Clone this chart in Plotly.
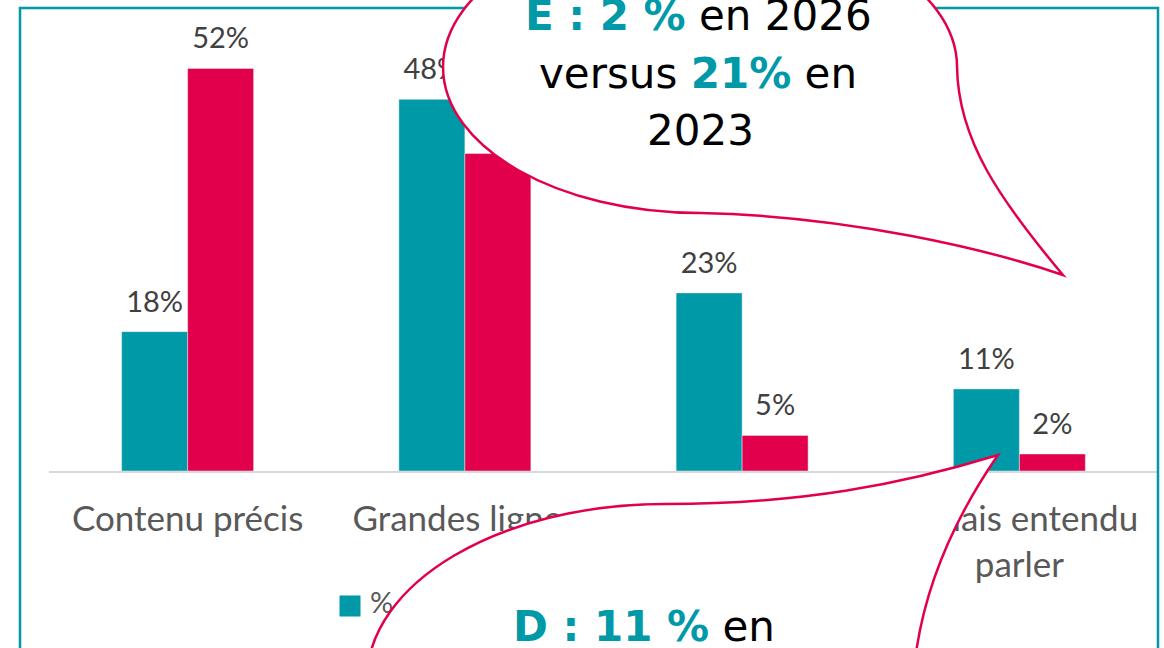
import plotly.graph_objects as go

# chart data
categories = ["Contenu précis", "Grandes lignes", "Entendu parler", "Jamais entendu<br>parler"]
series_names = ["% D", "% E"]
values_d = [18, 48, 23, 10.6]
values_e = [52, 41, 4.6, 2.2]

TEAL = "#0099A8"
CRIMSON = "#E2004C"
GREY = "#595959"
LABEL_GREY = "#404040"

W, H = 1164, 648
ML, MR, MT, MB = 49, 6, 8, 0
PW, PH = W - ML - MR, H - MT - MB
BASELINE = 471  # pixel row of the category axis
split = (H - BASELINE) / PH  # main plot above, legend strip below


def px(x, y):
    """Pixel position on the page -> paper coordinates."""
    return (x - ML) / PW, 1 - (y - MT) / PH


def svg_path(segments):
    parts = []
    for cmd, *pts in segments:
        parts.append(cmd + " ".join("%.4f,%.4f" % px(x, y) for x, y in pts))
    return " ".join(parts) + " Z"


fig = go.Figure()
for name, vals, color, grp in [
    (series_names[0], values_d, TEAL, "d"),
    (series_names[1], values_e, CRIMSON, "e"),
]:
    fig.add_trace(go.Bar(x=categories, y=vals, name=name, marker_color=color,
                         offsetgroup=grp, showlegend=False))
    # value labels, placed a bit higher than plotly's own bar text
    fig.add_trace(go.Scatter(
        x=categories, y=vals, mode="markers+text", offsetgroup=grp,
        texttemplate="%{y:.0f}%", textposition="top center",
        textfont=dict(family="Lato", size=29, color=LABEL_GREY),
        marker=dict(size=19, opacity=0), cliponaxis=False,
        hoverinfo="skip", showlegend=False,
    ))

# hand-drawn legend in a strip under the chart (pixel axes), so the callout can hide it
fig.add_trace(go.Scatter(
    x=[350, 428], y=[606, 606], xaxis="x2", yaxis="y2", mode="markers",
    marker=dict(symbol="square", size=21, color=[TEAL, CRIMSON]),
    hoverinfo="skip", showlegend=False,
))
fig.add_trace(go.Scatter(
    x=[370, 448], y=[606, 606], xaxis="x2", yaxis="y2", mode="text",
    text=[n.replace(" ", "&nbsp;&nbsp;") for n in series_names],
    textposition="middle right",
    textfont=dict(family="Lato", size=29, color=GREY),
    hoverinfo="skip", showlegend=False,
))

# callout outlines (pixel points)
bubble_e = svg_path([
    ("M", (700, 213)),
    ("C", (558, 213), (443, 147.6), (443, 67)),
    ("C", (443, -13.6), (558, -79), (700, -79)),
    ("C", (842, -79), (957, -13.6), (957, 67)),
    ("C", (958, 140), (1000, 200), (1063, 275)),
    ("C", (990, 250), (850, 216), (700, 213)),
])
bubble_d = svg_path([
    ("M", (665, 504)),
    ("C", (800, 504), (900, 485), (998, 455)),
    ("C", (960, 510), (925, 580), (915, 660)),
    ("C", (905, 760), (800, 856), (665, 856)),
    ("C", (500.4, 856), (367, 777.2), (367, 680)),
    ("C", (367, 582.8), (500.4, 504), (665, 504)),
])

x0, y0 = px(20, 8)
x1, y1 = px(1158, 720)
shapes = [
    dict(type="rect", xref="paper", yref="paper", x0=x0, y0=y0, x1=x1, y1=y1,
         line=dict(color=TEAL, width=2.5), layer="above"),
    dict(type="path", xref="paper", yref="paper", path=bubble_e,
         fillcolor="white", line=dict(color=CRIMSON, width=2.5), layer="above"),
    dict(type="path", xref="paper", yref="paper", path=bubble_d,
         fillcolor="white", line=dict(color=CRIMSON, width=2.5), layer="above"),
]


def teal_bold(s):
    return "<span style='color:%s'><b>%s</b></span>" % (TEAL, s)


callout_lines = [
    (teal_bold("E : 2 %") + " en 2026", 698, 16),
    ("versus " + teal_bold("21%") + " en", 698, 73),
    ("2023", 700, 131),
    (teal_bold("D : 11 %") + " en", 644, 626),
]
annotations = []
for text, cx, cy in callout_lines:
    ax_, ay_ = px(cx, cy)
    annotations.append(dict(
        text=text, x=ax_, y=ay_, xref="paper", yref="paper",
        xanchor="center", yanchor="middle", showarrow=False,
        font=dict(family="DejaVu Sans", size=42, color="black"),
    ))

fig.update_layout(
    width=W, height=H,
    margin=dict(l=ML, r=MR, t=MT, b=MB, autoexpand=False),
    paper_bgcolor="white", plot_bgcolor="white",
    barmode="group", bargap=0.524, bargroupgap=0,
    scattermode="group", scattergap=0.524,
    xaxis=dict(showline=True, linecolor="#D9D9D9", linewidth=2, showgrid=False,
               ticks="", ticklabelstandoff=16, anchor="y",
               tickfont=dict(family="Lato", size=35, color=GREY)),
    yaxis=dict(range=[0, 59.8], domain=[split, 1], visible=False),
    xaxis2=dict(range=[ML, W - MR], anchor="y2", visible=False),
    yaxis2=dict(range=[H, BASELINE], domain=[0, split], anchor="x2", visible=False),
    shapes=shapes, annotations=annotations,
)

fig.write_html(
    "out.html",
    config={"displayModeBar": False},
    post_script="document.body.style.margin='0';",
)
